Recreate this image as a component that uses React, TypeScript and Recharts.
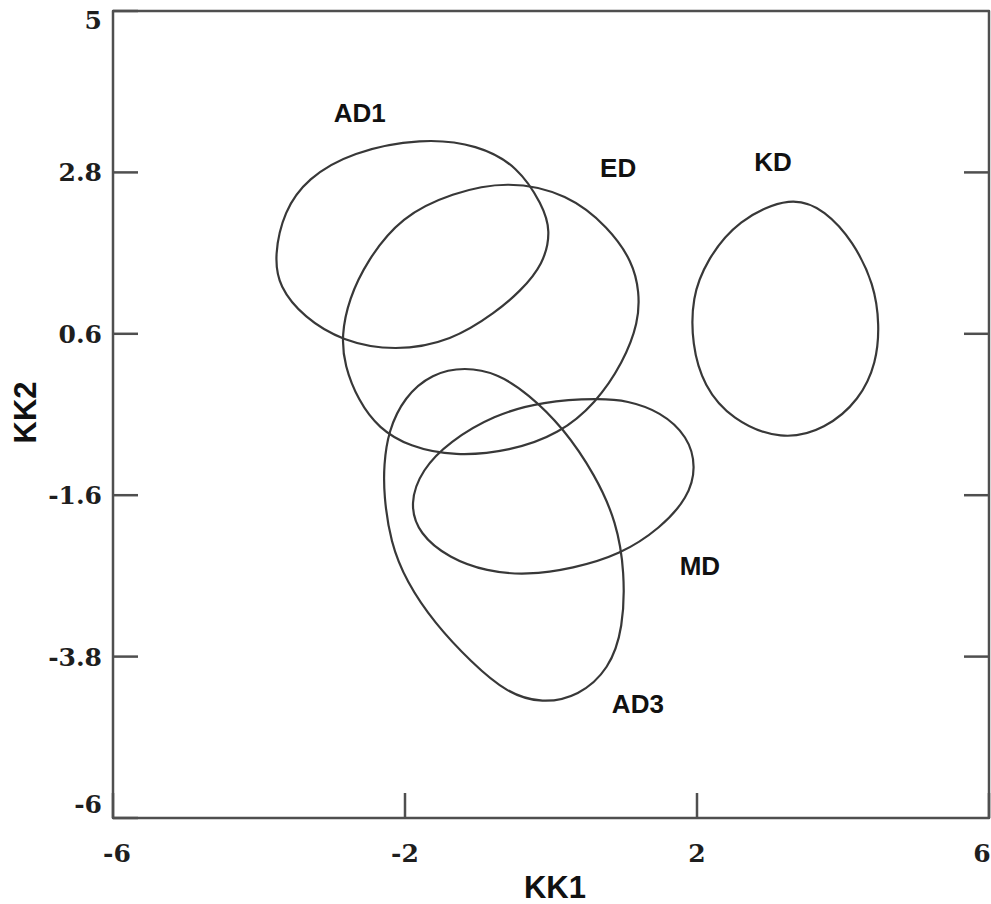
import { ComposedChart, Line, Scatter, XAxis, YAxis, ReferenceArea } from 'recharts';

type Pt = { x: number; y: number };
const toPts = (arr: number[][]): Pt[] => arr.map(([x, y]) => ({ x, y }));

// axis ticks
const xTicks = [-6, -2, 2, 6];
const yTicks = [-6, -3.8, -1.6, 0.6, 2.8, 5];

// outline points of each group ellipse (KK1, KK2)
const ad1 = toPts([
  [-1.77, 3.27], [-1.0, 3.18], [-0.45, 2.88], [-0.12, 2.36], [-0.0, 2.01], [-0.1, 1.55],
  [-0.43, 1.17], [-0.75, 0.9], [-1.36, 0.5], [-2.14, 0.36], [-2.86, 0.5], [-3.38, 0.82],
  [-3.73, 1.24], [-3.79, 1.67], [-3.66, 2.27], [-3.34, 2.72], [-2.73, 3.08],
]);
const ed = toPts([
  [-0.59, 2.69], [0.23, 2.51], [0.79, 2.05], [1.12, 1.58], [1.21, 1.17], [1.2, 0.76],
  [0.99, 0.21], [0.61, -0.35], [0.12, -0.76], [-0.56, -1.0], [-1.32, -1.07], [-1.94, -0.94],
  [-2.36, -0.69], [-2.64, -0.31], [-2.83, 0.17], [-2.87, 0.58], [-2.77, 1.07], [-2.52, 1.6],
  [-2.05, 2.2], [-1.36, 2.52],
]);
const kd = toPts([
  [3.3, 2.49], [3.76, 2.28], [4.14, 1.86], [4.43, 1.27], [4.5, 0.72], [4.46, 0.21],
  [4.23, -0.3], [3.76, -0.7], [3.16, -0.86], [2.47, -0.57], [2.09, -0.11], [1.93, 0.45],
  [1.93, 1.1], [2.13, 1.6], [2.55, 2.15],
]);
const md = toPts([
  [0.67, -0.28], [1.04, -0.31], [1.5, -0.46], [1.88, -0.8], [1.99, -1.22], [1.88, -1.63],
  [1.5, -2.05], [0.95, -2.41], [0.3, -2.6], [-0.33, -2.69], [-0.88, -2.64], [-1.39, -2.46],
  [-1.81, -2.13], [-1.94, -1.71], [-1.77, -1.25], [-1.39, -0.87], [-0.79, -0.51], [-0.11, -0.32],
]);
const ad3 = toPts([
  [-1.18, 0.15], [-0.73, 0.06], [-0.31, -0.22], [0.16, -0.67], [0.61, -1.33], [0.9, -1.97],
  [1.01, -2.65], [0.99, -3.41], [0.8, -3.97], [0.38, -4.34], [-0.12, -4.44], [-0.6, -4.3],
  [-1.09, -3.88], [-1.6, -3.34], [-1.98, -2.78], [-2.2, -2.24], [-2.29, -1.6], [-2.29, -1.19],
  [-2.23, -0.73], [-2.01, -0.26], [-1.63, 0.06],
]);

const groupLabels = [
  { name: 'AD1', x: -2.62, y: 3.61 },
  { name: 'ED', x: 0.92, y: 2.86 },
  { name: 'KD', x: 3.04, y: 2.94 },
  { name: 'MD', x: 2.04, y: -2.57 },
  { name: 'AD3', x: 1.19, y: -4.44 },
];

const ellipses = [
  { id: 'AD1', points: ad1 },
  { id: 'ED', points: ed },
  { id: 'KD', points: kd },
  { id: 'MD', points: md },
  { id: 'AD3', points: ad3 },
];

const FRAME = '#4f4f4f';
const LINE = '#383838';
const TICK_FONT = { fontFamily: '"DejaVu Serif", serif', fontWeight: 700, fontSize: 25, fill: '#1e1e1e' };
const TITLE_FONT = { fontFamily: '"Liberation Sans", Arial, sans-serif', fontWeight: 700, fontSize: 31, fill: '#111' };

const LeftTick = ({ x, y, payload }: any) => {
  const v = payload.value;
  const dy = v === 5 ? 9 : v === -6 ? -14 : 0;
  return (
    <g>
      <line x1={x + 11} x2={x + 36} y1={y} y2={y} stroke={FRAME} strokeWidth={2.5} />
      <text x={x} y={y + dy + 9} textAnchor="end" {...TICK_FONT}>
        {v}
      </text>
    </g>
  );
};

const RightTick = ({ x, y }: any) => (
  <line x1={x} x2={x - 25} y1={y} y2={y} stroke={FRAME} strokeWidth={2.5} />
);

const BottomTick = ({ x, y, payload }: any) => {
  const v = payload.value;
  const dx = v === -6 ? 4 : v === 6 ? -7 : 0;
  return (
    <g>
      <line x1={x} x2={x} y1={y - 35} y2={y - 60} stroke={FRAME} strokeWidth={2.5} />
      <text x={x + dx} y={y + 9} textAnchor="middle" {...TICK_FONT}>
        {v}
      </text>
    </g>
  );
};

const XTitle = ({ viewBox }: any) => (
  <text x={viewBox.x + viewBox.width / 2 + 4} y={viewBox.y + 80} textAnchor="middle" {...TITLE_FONT}>
    KK1
  </text>
);

const YTitle = ({ viewBox }: any) => {
  const cx = viewBox.x + 25;
  const cy = viewBox.y + viewBox.height / 2 - 2;
  return (
    <text
      x={cx}
      y={cy}
      transform={`rotate(-90 ${cx} ${cy})`}
      textAnchor="middle"
      dominantBaseline="central"
      {...TITLE_FONT}
    >
      KK2
    </text>
  );
};

const GroupLabel = ({ cx, cy, payload }: any) => (
  <text
    x={cx}
    y={cy}
    textAnchor="middle"
    dominantBaseline="central"
    fontFamily='"Liberation Sans", Arial, sans-serif'
    fontWeight={700}
    fontSize={26}
    fill="#111"
  >
    {payload.name}
  </text>
);

export default function App() {
  return (
    <div style={{ position: 'absolute', left: 0, top: 0, background: '#fff' }}>
      <ComposedChart width={991} height={904} margin={{ top: 11, right: 0, bottom: 0, left: 0 }}>
        <XAxis
          dataKey="x"
          type="number"
          domain={[-6, 6]}
          ticks={xTicks}
          interval={0}
          allowDataOverflow
          height={86}
          axisLine={false}
          tickLine={false}
          tickSize={0}
          tickMargin={35}
          tick={<BottomTick />}
          label={<XTitle />}
        />
        <YAxis
          type="number"
          domain={[-6, 5]}
          ticks={yTicks}
          interval={0}
          allowDataOverflow
          width={113}
          axisLine={false}
          tickLine={false}
          tickSize={0}
          tickMargin={11}
          tick={<LeftTick />}
          label={<YTitle />}
        />
        <YAxis
          yAxisId="r"
          orientation="right"
          type="number"
          domain={[-6, 5]}
          ticks={yTicks.slice(1, -1)}
          interval={0}
          allowDataOverflow
          width={2}
          axisLine={false}
          tickLine={false}
          tickSize={0}
          tickMargin={0}
          tick={<RightTick />}
        />
        <ReferenceArea
          x1={-6}
          x2={6}
          y1={-6}
          y2={5}
          fill="none"
          stroke={FRAME}
          strokeWidth={2.5}
          strokeLinejoin="round"
          ifOverflow="visible"
        />
        {ellipses.map((e) => (
          <Line
            key={e.id}
            name={e.id}
            data={e.points}
            dataKey="y"
            type="basisClosed"
            stroke={LINE}
            strokeWidth={2.2}
            dot={false}
            activeDot={false}
            isAnimationActive={false}
          />
        ))}
        <Scatter data={groupLabels} dataKey="y" shape={<GroupLabel />} isAnimationActive={false} />
      </ComposedChart>
    </div>
  );
}
